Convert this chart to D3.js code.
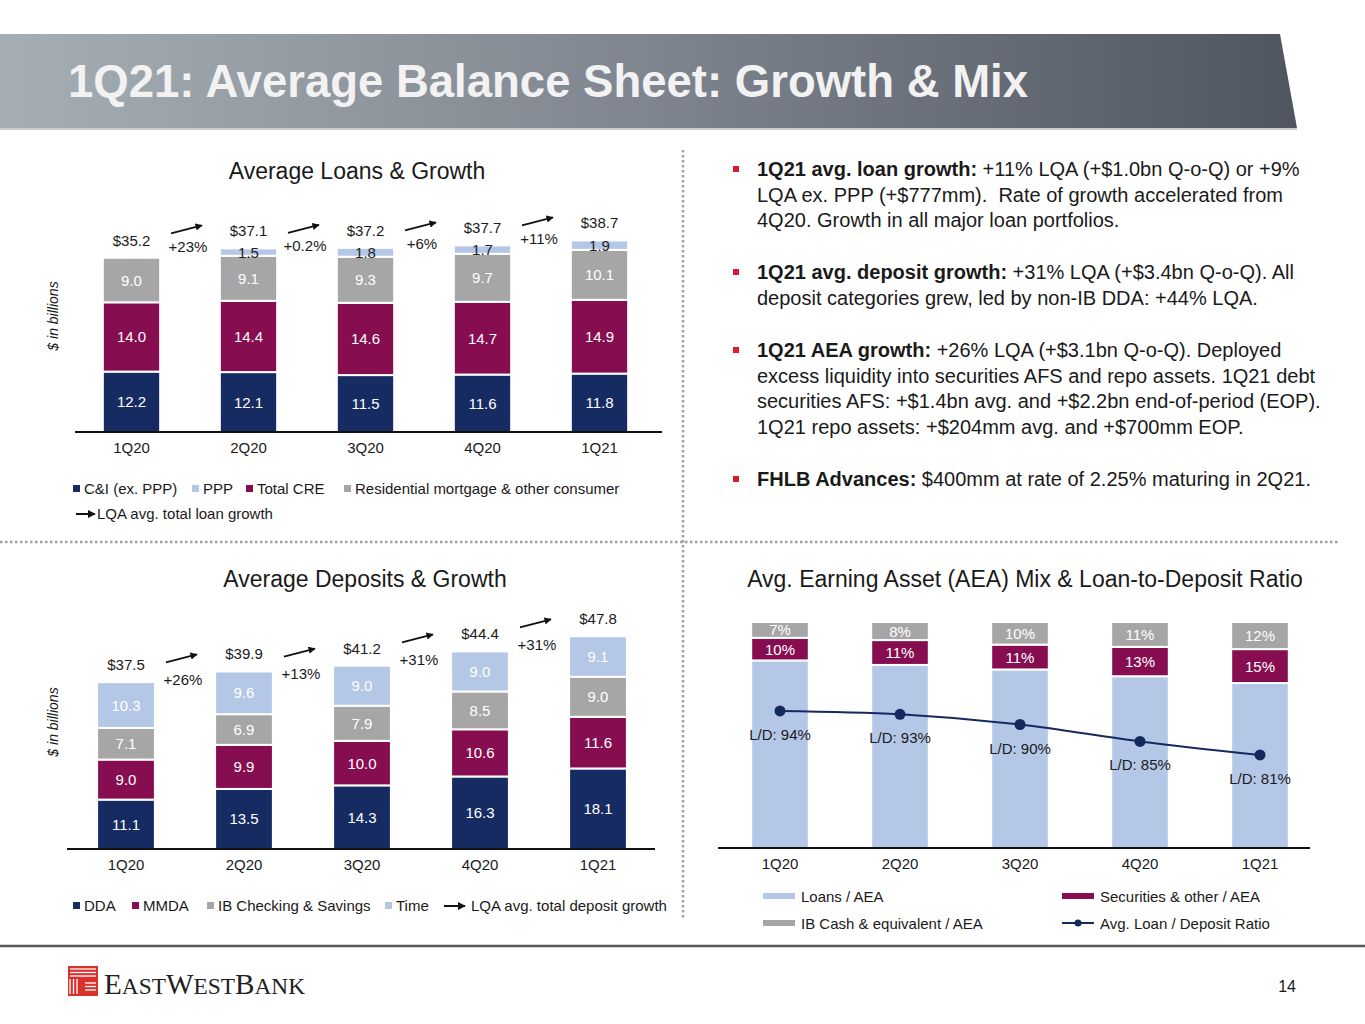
<!DOCTYPE html>
<html><head><meta charset="utf-8">
<script src="https://cdn.jsdelivr.net/npm/d3@7"></script>
<style>
body{margin:0;background:#fff;}
svg{display:block;font-family:"Liberation Sans",Arial,sans-serif;}
</style>
</head><body>
<svg id="c" width="1365" height="1024"></svg>
<script>
// ---------------- DATA ----------------
const quarters = ["1Q20","2Q20","3Q20","4Q20","1Q21"];

// Average loans ($bn)
const loanCI   = [12.2, 12.1, 11.5, 11.6, 11.8];
const loanCRE  = [14.0, 14.4, 14.6, 14.7, 14.9];
const loanResi = [9.0, 9.1, 9.3, 9.7, 10.1];
const loanPPP  = [0, 1.5, 1.8, 1.7, 1.9];
const loanTotals = ["$35.2","$37.1","$37.2","$37.7","$38.7"];
const loanGrowth = ["+23%","+0.2%","+6%","+11%"];

// Average deposits ($bn)
const depDDA  = [11.1, 13.5, 14.3, 16.3, 18.1];
const depMMDA = [9.0, 9.9, 10.0, 10.6, 11.6];
const depIB   = [7.1, 6.9, 7.9, 8.5, 9.0];
const depTime = [10.3, 9.6, 9.0, 9.0, 9.1];
const depTotals = ["$37.5","$39.9","$41.2","$44.4","$47.8"];
const depGrowth = ["+26%","+13%","+31%","+31%"];

// AEA mix (%) and L/D ratio (%)
const aeaLoans = [83, 81, 79, 76, 73];
const aeaSec   = [10, 11, 11, 13, 15];
const aeaCash  = [7, 8, 10, 11, 12];
const ldRatio  = [94, 93, 90, 85, 81];

// Legend labels
const loanLegend = ["C&I (ex. PPP)","PPP","Total CRE","Residential mortgage & other consumer"];
const depLegend = ["DDA","MMDA","IB Checking & Savings","Time"];
const aeaLegend = ["Loans / AEA","Securities & other / AEA","IB Cash & equivalent / AEA","Avg. Loan / Deposit Ratio"];

// Bullet text
const bullets = [
  {bold:"1Q21 avg. loan growth:", lines:[" +11% LQA (+$1.0bn Q-o-Q) or +9%","LQA ex. PPP (+$777mm).  Rate of growth accelerated from","4Q20. Growth in all major loan portfolios."]},
  {bold:"1Q21 avg. deposit growth:", lines:[" +31% LQA (+$3.4bn Q-o-Q). All","deposit categories grew, led by non-IB DDA: +44% LQA."]},
  {bold:"1Q21 AEA growth:", lines:[" +26% LQA (+$3.1bn Q-o-Q). Deployed","excess liquidity into securities AFS and repo assets. 1Q21 debt","securities AFS: +$1.4bn avg. and +$2.2bn end-of-period (EOP).","1Q21 repo assets: +$204mm avg. and +$700mm EOP."]},
  {bold:"FHLB Advances:", lines:[" $400mm at rate of 2.25% maturing in 2Q21."]}
];

// ---------------- STYLE ----------------
const NAVY = "#172B63", PURPLE = "#870D51", GRAY = "#A6A6A6", LBLUE = "#B4C7E7";
const TXT = "#1a1a1a";
const FS = 15;

const svg = d3.select("#c");
const defs = svg.append("defs");

const g1 = defs.append("linearGradient").attr("id","tg").attr("x1","0").attr("x2","1").attr("y1","0").attr("y2","0");
g1.append("stop").attr("offset","0").attr("stop-color","#A6AEB5");
g1.append("stop").attr("offset","0.5").attr("stop-color","#7E858E");
g1.append("stop").attr("offset","1").attr("stop-color","#50565F");

defs.append("marker").attr("id","arr").attr("viewBox","0 0 10 10").attr("refX",9).attr("refY",5)
  .attr("markerWidth",4).attr("markerHeight",4).attr("orient","auto")
  .append("path").attr("d","M0,0 L10,5 L0,10 z").attr("fill","#111");

// ---------------- HEADER ----------------
svg.append("path").attr("d","M0,34 L1280,34 L1297,128 L0,128 Z").attr("fill","url(#tg)");
svg.append("line").attr("x1",0).attr("x2",1297).attr("y1",129).attr("y2",129).attr("stroke","#C9CDD1").attr("stroke-width",2);
svg.append("text").attr("x",68).attr("y",97).attr("font-size",45.5).attr("font-weight","bold")
  .attr("fill","#F2F2F2").text("1Q21: Average Balance Sheet: Growth & Mix");

// separators
svg.append("line").attr("x1",0).attr("x2",1340).attr("y1",542).attr("y2",542)
  .attr("stroke","#A0A0A0").attr("stroke-width",2.5).attr("stroke-dasharray","2.5,2.5");
svg.append("line").attr("x1",683).attr("x2",683).attr("y1",150).attr("y2",918)
  .attr("stroke","#A0A0A0").attr("stroke-width",2.5).attr("stroke-dasharray","2.5,2.5");
svg.append("line").attr("x1",0).attr("x2",1365).attr("y1",946).attr("y2",946)
  .attr("stroke","#5A5A5A").attr("stroke-width",2.5);

// ---------------- STACKED BAR HELPER ----------------
function stackedChart(opt){
  const g = svg.append("g");
  const x = d3.scaleBand().domain(quarters).range(opt.xRange).paddingInner(0.51).paddingOuter(0.255);
  const y = d3.scaleLinear().domain(opt.yDomain).range(opt.yRange);
  const rows = quarters.map((q,i)=>{
    const r = {q};
    opt.keys.forEach((k,j)=> r[k] = opt.series[j][i]);
    return r;
  });
  const stack = d3.stack().keys(opt.keys)(rows);
  stack.forEach((layer,j)=>{
    g.append("g").selectAll("rect").data(layer.filter(d=>d[1]-d[0]>0)).join("rect")
      .attr("x",d=>x(d.data.q)).attr("width",x.bandwidth())
      .attr("y",d=>y(d[1])).attr("height",d=>y(d[0])-y(d[1]))
      .attr("fill",opt.colors[j]).attr("stroke","#fff").attr("stroke-width",2);
    g.append("g").selectAll("text").data(layer.filter(d=>d[1]-d[0]>0)).join("text")
      .attr("x",d=>x(d.data.q)+x.bandwidth()/2).attr("y",d=>(y(d[0])+y(d[1]))/2+5.5)
      .attr("text-anchor","middle").attr("font-size",FS)
      .attr("fill",opt.labelColors[j])
      .text(d=>(d[1]-d[0]).toFixed(1));
  });
  const axis = d3.axisBottom(x).tickSize(0).tickPadding(10);
  const ag = g.append("g").attr("transform",`translate(0,${opt.yRange[0]})`).call(axis);
  ag.select(".domain").remove();
  ag.selectAll("text").attr("font-size",FS).attr("fill",TXT).attr("font-family","Liberation Sans, Arial, sans-serif");
  g.append("line").attr("x1",opt.axisX[0]).attr("x2",opt.axisX[1])
    .attr("y1",opt.yRange[0]).attr("y2",opt.yRange[0]).attr("stroke","#111").attr("stroke-width",2);
  const tots = stack[stack.length-1];
  g.append("g").selectAll("text").data(tots).join("text")
    .attr("x",d=>x(d.data.q)+x.bandwidth()/2).attr("y",d=>y(d[1])+opt.totalOffset)
    .attr("text-anchor","middle").attr("font-size",FS).attr("fill",TXT)
    .text((d,i)=>opt.totals[i]);
  opt.growth.forEach((gtxt,i)=>{
    const cx = (x(quarters[i])+x(quarters[i+1]))/2 + x.bandwidth()/2 - 3;
    const yMax = y(Math.max(tots[i][1],tots[i+1][1]));
    const ya = yMax + opt.arrowOffset;
    g.append("line").attr("x1",cx-16).attr("x2",cx+15).attr("y1",ya+4).attr("y2",ya-4)
      .attr("stroke","#111").attr("stroke-width",1.8).attr("marker-end","url(#arr)");
    g.append("text").attr("x",cx+1).attr("y",yMax+opt.growthOffset+5.5).attr("text-anchor","middle")
      .attr("font-size",FS).attr("fill",TXT).text(gtxt);
  });
  g.append("text").attr("x",opt.titleX).attr("y",opt.titleY).attr("text-anchor","middle")
    .attr("font-size",23).attr("fill",TXT).text(opt.title);
  g.append("text").attr("transform",`translate(${opt.ylabX},${opt.ylabY}) rotate(-90)`)
    .attr("text-anchor","middle").attr("font-size",14).attr("font-style","italic").attr("fill",TXT)
    .text("$ in billions");
  return {x,y,g};
}

stackedChart({
  keys:["ci","cre","resi","ppp"],
  series:[loanCI, loanCRE, loanResi, loanPPP],
  colors:[NAVY, PURPLE, GRAY, LBLUE],
  labelColors:["#fff","#fff","#fff","#222"],
  xRange:[73,658], yDomain:[0,40], yRange:[432,234], axisX:[75,662],
  totals:loanTotals, growth:loanGrowth,
  totalOffset:-12, arrowOffset:-19, growthOffset:-2,
  title:"Average Loans & Growth", titleX:357, titleY:179,
  ylabX:58, ylabY:316
});

stackedChart({
  keys:["dda","mmda","ib","time"],
  series:[depDDA, depMMDA, depIB, depTime],
  colors:[NAVY, PURPLE, GRAY, LBLUE],
  labelColors:["#fff","#fff","#fff","#fff"],
  xRange:[67,657], yDomain:[0,50], yRange:[849,626.5], axisX:[67,655],
  totals:depTotals, growth:depGrowth,
  totalOffset:-12, arrowOffset:-13, growthOffset:8,
  title:"Average Deposits & Growth", titleX:365, titleY:587,
  ylabX:58, ylabY:722
});

function squareLegend(items, colors, xs, yc){
  const lg = svg.append("g");
  items.forEach((t,i)=>{
    lg.append("rect").attr("x",xs[i]).attr("y",yc-4).attr("width",7).attr("height",7).attr("fill",colors[i]);
    lg.append("text").attr("x",xs[i]+11).attr("y",yc+5).attr("font-size",FS).attr("fill",TXT).text(t);
  });
  return lg;
}
squareLegend(loanLegend,[NAVY,LBLUE,PURPLE,GRAY],[73,192,246,344],489);
svg.append("line").attr("x1",76).attr("x2",95).attr("y1",514).attr("y2",514).attr("stroke","#111").attr("stroke-width",2).attr("marker-end","url(#arr)");
svg.append("text").attr("x",97).attr("y",519).attr("font-size",FS).attr("fill",TXT).text("LQA avg. total loan growth");

squareLegend(depLegend,[NAVY,PURPLE,GRAY,LBLUE],[73,132,207,385],906);
svg.append("line").attr("x1",444).attr("x2",465).attr("y1",906).attr("y2",906).attr("stroke","#111").attr("stroke-width",2).attr("marker-end","url(#arr)");
svg.append("text").attr("x",471).attr("y",911).attr("font-size",FS).attr("fill",TXT).text("LQA avg. total deposit growth");

// ---------------- AEA CHART ----------------
(function(){
  const g = svg.append("g");
  const x = d3.scaleBand().domain(quarters).range([720,1320]).paddingInner(0.52).paddingOuter(0.26);
  const y = d3.scaleLinear().domain([0,100]).range([848,622]);
  const y2 = d3.scaleLinear().domain([53.5,120.3]).range([848,622]);
  const keys = ["loans","sec","cash"];
  const rows = quarters.map((q,i)=>({q, loans:aeaLoans[i], sec:aeaSec[i], cash:aeaCash[i]}));
  const st = d3.stack().keys(keys)(rows);
  const cols = [LBLUE, PURPLE, GRAY];
  st.forEach((layer,j)=>{
    g.append("g").selectAll("rect").data(layer).join("rect")
      .attr("x",d=>x(d.data.q)).attr("width",x.bandwidth())
      .attr("y",d=>y(d[1])).attr("height",d=>y(d[0])-y(d[1]))
      .attr("fill",cols[j]).attr("stroke","#fff").attr("stroke-width",2);
    if(j>0){
      g.append("g").selectAll("text").data(layer).join("text")
        .attr("x",d=>x(d.data.q)+x.bandwidth()/2).attr("y",d=>(y(d[0])+y(d[1]))/2+5.5)
        .attr("text-anchor","middle").attr("font-size",FS).attr("fill","#fff")
        .text(d=>(d[1]-d[0])+"%");
    }
  });
  const axis = d3.axisBottom(x).tickSize(0).tickPadding(10);
  const ag = g.append("g").attr("transform","translate(0,848)").call(axis);
  ag.select(".domain").remove();
  ag.selectAll("text").attr("font-size",FS).attr("fill",TXT).attr("font-family","Liberation Sans, Arial, sans-serif");
  g.append("line").attr("x1",718).attr("x2",1310).attr("y1",848).attr("y2",848).attr("stroke","#111").attr("stroke-width",2);

  const cx = q=>x(q)+x.bandwidth()/2;
  const line = d3.line().x((d,i)=>cx(quarters[i])).y(d=>y2(d)).curve(d3.curveCatmullRom.alpha(0.5));
  g.append("path").datum(ldRatio).attr("d",line).attr("fill","none").attr("stroke","#14295E").attr("stroke-width",2);
  g.append("g").selectAll("circle").data(ldRatio).join("circle")
    .attr("cx",(d,i)=>cx(quarters[i])).attr("cy",d=>y2(d)).attr("r",5.5).attr("fill","#14295E");
  g.append("g").selectAll("text").data(ldRatio).join("text")
    .attr("x",(d,i)=>cx(quarters[i])).attr("y",d=>y2(d)+29).attr("text-anchor","middle")
    .attr("font-size",FS).attr("fill",TXT).text(d=>"L/D: "+d+"%");

  g.append("text").attr("x",1025).attr("y",587).attr("text-anchor","middle").attr("font-size",23).attr("fill",TXT)
    .text("Avg. Earning Asset (AEA) Mix & Loan-to-Deposit Ratio");

  const lx = [763,1062,763,1062], ly = [896,896,923,923];
  const lc = [LBLUE, PURPLE, GRAY, "#14295E"];
  aeaLegend.forEach((t,i)=>{
    if(i<3){
      g.append("rect").attr("x",lx[i]).attr("y",ly[i]-3).attr("width",32).attr("height",6).attr("fill",lc[i]);
    } else {
      g.append("line").attr("x1",lx[i]).attr("x2",lx[i]+32).attr("y1",ly[i]).attr("y2",ly[i]).attr("stroke",lc[i]).attr("stroke-width",2);
      g.append("circle").attr("cx",lx[i]+16).attr("cy",ly[i]).attr("r",3.5).attr("fill",lc[i]);
    }
    g.append("text").attr("x",lx[i]+38).attr("y",ly[i]+5.5).attr("font-size",FS).attr("fill",TXT).text(t);
  });
})();

// ---------------- BULLETS ----------------
(function(){
  const g = svg.append("g");
  const starts = [169, 272, 350, 479];
  const lh = 25.7;
  bullets.forEach((b,i)=>{
    const y0 = starts[i];
    g.append("rect").attr("x",733).attr("y",y0-3).attr("width",6).attr("height",6).attr("fill","#E0182D");
    b.lines.forEach((ln,k)=>{
      const t = g.append("text").attr("x",757).attr("y",y0+k*lh+7).attr("font-size",20).attr("fill",TXT);
      if(k===0){
        t.append("tspan").attr("font-weight","bold").text(b.bold);
        t.append("tspan").style("white-space","pre").text(ln);
      } else {
        t.style("white-space","pre").text(ln);
      }
    });
  });
})();

// ---------------- FOOTER ----------------
(function(){
  const g = svg.append("g");
  g.append("rect").attr("x",68).attr("y",966).attr("width",30).attr("height",30).attr("fill","#D9322C");
  const s = g.append("g").attr("stroke","#fff").attr("stroke-width",1.3);
  [0,1,2].forEach(k=>{
    s.append("line").attr("x1",70).attr("x2",96).attr("y1",969+k*3.5).attr("y2",969+k*3.5);
    s.append("line").attr("x1",70+k*3.5).attr("x2",70+k*3.5).attr("y1",979).attr("y2",994);
    s.append("line").attr("x1",85).attr("x2",96).attr("y1",983+k*3.5).attr("y2",983+k*3.5);
  });
  const t = g.append("text").attr("x",104).attr("y",994).attr("font-family","Liberation Serif, Times New Roman, serif")
    .attr("fill","#222").attr("textLength",201).attr("lengthAdjust","spacingAndGlyphs");
  [["E",30],["AST",24],["W",30],["EST",24],["B",30],["ANK",24]].forEach(([c,fs])=>{
    t.append("tspan").attr("font-size",fs).text(c);
  });
  g.append("text").attr("x",1296).attr("y",992).attr("text-anchor","end").attr("font-size",16).attr("fill",TXT).text("14");
})();
</script>
</body></html>
